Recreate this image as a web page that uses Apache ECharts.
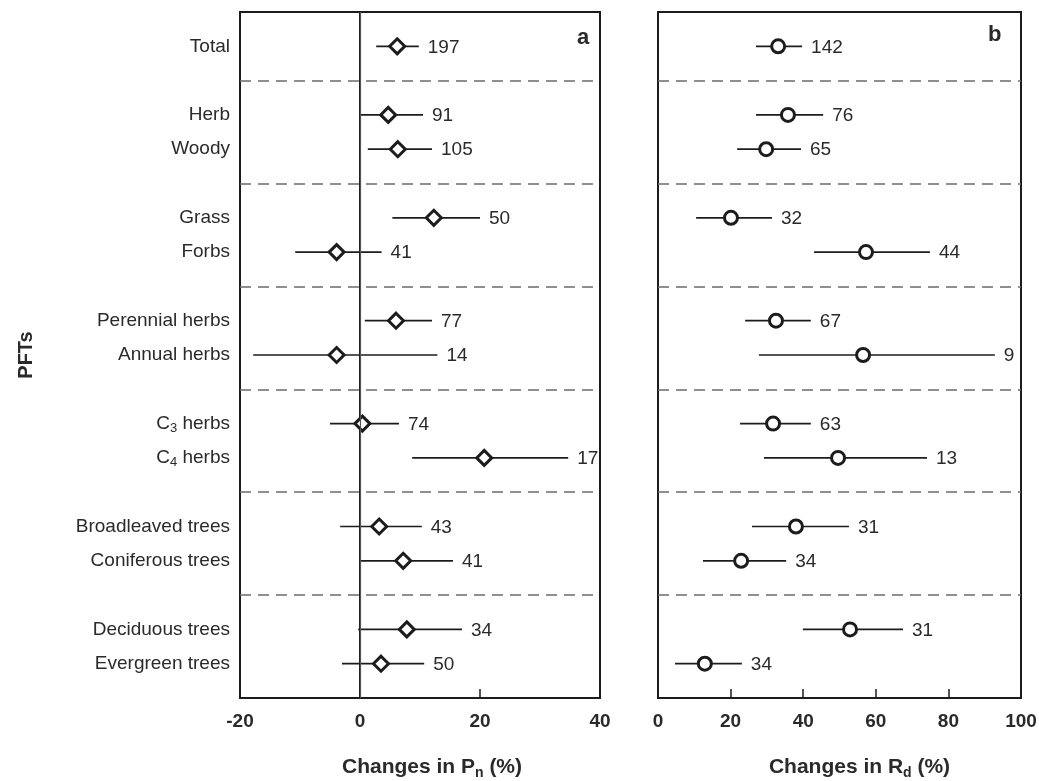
<!DOCTYPE html>
<html><head><meta charset="utf-8">
<script src="https://cdn.jsdelivr.net/npm/echarts/dist/echarts.min.js"></script>
<style>html,body{margin:0;padding:0;background:#fff}#chart{width:1039px;height:781px}</style>
</head><body><div id="chart"></div>
<script>
// ---- data ----
const groups = [
  ["Total"],
  ["Herb", "Woody"],
  ["Grass", "Forbs"],
  ["Perennial herbs", "Annual herbs"],
  ["C3 herbs", "C4 herbs"],
  ["Broadleaved trees", "Coniferous trees"],
  ["Deciduous trees", "Evergreen trees"]
];
const categories = groups.flat();

// Panel a: changes in Pn (%)
const pnMean = [6.2, 4.7, 6.3, 12.3, -3.9, 6.0, -3.9, 0.4, 20.7, 3.2, 7.2, 7.8, 3.5];
const pnLow  = [2.7, 0.0, 1.3, 5.4, -10.8, 0.8, -17.8, -5.0, 8.7, -3.3, 0.0, -0.3, -3.0];
const pnHigh = [9.8, 10.5, 12.0, 20.0, 3.6, 12.0, 12.9, 6.5, 34.7, 10.3, 15.5, 17.0, 10.7];
const pnN    = [197, 91, 105, 50, 41, 77, 14, 74, 17, 43, 41, 34, 50];

// Panel b: changes in Rd (%)
const rdMean = [33.1, 35.8, 29.8, 20.1, 57.3, 32.5, 56.5, 31.7, 49.6, 38.0, 22.9, 52.9, 12.9];
const rdLow  = [27.0, 27.0, 21.8, 10.5, 43.0, 24.0, 27.8, 22.6, 29.2, 25.9, 12.4, 39.9, 4.7];
const rdHigh = [39.7, 45.5, 39.4, 31.4, 74.9, 42.1, 92.8, 42.1, 74.1, 52.6, 35.3, 67.5, 23.1];
const rdN    = [142, 76, 65, 32, 44, 67, 9, 63, 13, 31, 34, 31, 34];

const pnTicks = [-20, 0, 20, 40];
const rdTicks = [0, 20, 40, 60, 80, 100];

// ---- row layout derived from groups ----
const rowPos = [], sepPos = [];
let p = categories.length + groups.length;
const yMax = p;
groups.forEach((g, gi) => {
  g.forEach(() => { p -= 1; rowPos.push(p); });
  p -= 1;
  if (gi < groups.length - 1) sepPos.push(p);
});
const posName = {};
categories.forEach((c, i) => { posName[rowPos[i]] = c; });

const FONT = '"Liberation Sans", Arial, sans-serif';
const INK = '#1c1c1c';
const TXT = '#2a2a2a';

function yLabel(v) {
  const n = posName[v];
  if (!n) return '';
  const m = n.match(/^C(\d) (.*)$/);
  if (m) return '{t|C}{s|' + m[1] + '}{t| ' + m[2] + '}';
  return '{t|' + n + '}';
}

function errSeries(idx, lo, hi, nn) {
  return {
    type: 'custom', xAxisIndex: idx, yAxisIndex: idx, z: 2, silent: true,
    data: categories.map((c, i) => [lo[i], hi[i], rowPos[i], nn[i]]),
    encode: { x: [0, 1], y: 2 },
    renderItem: (params, api) => {
      const a = api.coord([api.value(0), api.value(2)]);
      const b = api.coord([api.value(1), api.value(2)]);
      return { type: 'group', children: [
        { type: 'line', shape: { x1: a[0], y1: a[1], x2: b[0], y2: b[1] },
          style: { stroke: INK, lineWidth: 1.7 } },
        { type: 'text', style: { text: String(api.value(3)), x: b[0] + 9, y: b[1] + 1,
          align: 'left', verticalAlign: 'middle', fontSize: 19, fontFamily: FONT, fill: TXT } }
      ]};
    }
  };
}

function meanSeries(idx, mean, symbol, size, extraLines) {
  return {
    type: 'scatter', xAxisIndex: idx, yAxisIndex: idx, z: 3, silent: true,
    data: categories.map((c, i) => [mean[i], rowPos[i]]),
    symbol: symbol, symbolSize: size,
    itemStyle: { color: '#fff', borderColor: INK, borderWidth: 3, opacity: 1 },
    markLine: {
      silent: true, symbol: ['none', 'none'], animation: false,
      label: { show: false },
      data: sepPos.map(v => ({ yAxis: v, lineStyle: { type: [11, 7], color: '#6b6b6b', width: 1.5 } }))
        .concat(extraLines || [])
    }
  };
}

function xAxisCfg(idx, ticks, nameRich, padLeft) {
  return {
    type: 'value', gridIndex: idx, min: ticks[0], max: ticks[ticks.length - 1],
    interval: ticks[1] - ticks[0],
    axisLine: { show: true, onZero: false, lineStyle: { color: INK, width: 2 } },
    axisTick: { show: true, inside: true, length: 9, lineStyle: { color: INK, width: 1.5 } },
    axisLabel: { fontSize: 19, fontWeight: 'bold', fontFamily: FONT, color: TXT, margin: 14 },
    splitLine: { show: false },
    name: nameRich, nameLocation: 'middle', nameGap: 56,
    nameTextStyle: {
      padding: [0, 0, 0, padLeft],
      rich: {
        b: { fontSize: 21, fontWeight: 'bold', fontFamily: FONT, color: TXT },
        s: { fontSize: 14, fontWeight: 'bold', fontFamily: FONT, color: TXT, padding: [12, 0, 0, 0] }
      }
    }
  };
}

function yAxisCfg(idx, showLabels) {
  return {
    type: 'value', gridIndex: idx, min: 0, max: yMax, interval: 1,
    axisLine: { show: true, lineStyle: { color: INK, width: 2 } },
    axisTick: { show: false },
    splitLine: { show: false },
    axisLabel: showLabels ? {
      formatter: yLabel, margin: 10,
      rich: {
        t: { fontSize: 19, fontFamily: FONT, color: TXT },
        s: { fontSize: 13, fontFamily: FONT, color: TXT, padding: [10, 0, 0, 0] }
      }
    } : { show: false },
    name: showLabels ? 'PFTs' : '', nameLocation: 'middle', nameGap: 204,
    nameTextStyle: { fontSize: 20, fontWeight: 'bold', fontFamily: FONT, color: TXT }
  };
}

const chart = echarts.init(document.getElementById('chart'), null, { renderer: 'canvas' });
chart.setOption({
  animation: false,
  backgroundColor: '#fff',
  grid: [
    { left: 240, width: 360, top: 12, height: 686, show: true, borderColor: INK, borderWidth: 2,
      backgroundColor: 'transparent', containLabel: false, outerBoundsMode: 'none' },
    { left: 658, width: 363, top: 12, height: 686, show: true, borderColor: INK, borderWidth: 2,
      backgroundColor: 'transparent', containLabel: false, outerBoundsMode: 'none' }
  ],
  xAxis: [
    xAxisCfg(0, pnTicks, '{b|Changes in P}{s|n}{b| (%)}', 24),
    xAxisCfg(1, rdTicks, '{b|Changes in R}{s|d}{b| (%)}', 40)
  ],
  yAxis: [yAxisCfg(0, true), yAxisCfg(1, false)],
  series: [
    errSeries(0, pnLow, pnHigh, pnN),
    meanSeries(0, pnMean, 'diamond', 15, [{ xAxis: 0, lineStyle: { type: 'solid', color: '#555', width: 1.2 } }]),
    errSeries(1, rdLow, rdHigh, rdN),
    meanSeries(1, rdMean, 'circle', 13)
  ],
  graphic: [
    { type: 'text', left: 577, top: 27, style: { text: 'a', fontSize: 22, fontWeight: 'bold', fontFamily: FONT, fill: TXT } },
    { type: 'text', left: 988, top: 24, style: { text: 'b', fontSize: 22, fontWeight: 'bold', fontFamily: FONT, fill: TXT } }
  ]
});
</script></body></html>
